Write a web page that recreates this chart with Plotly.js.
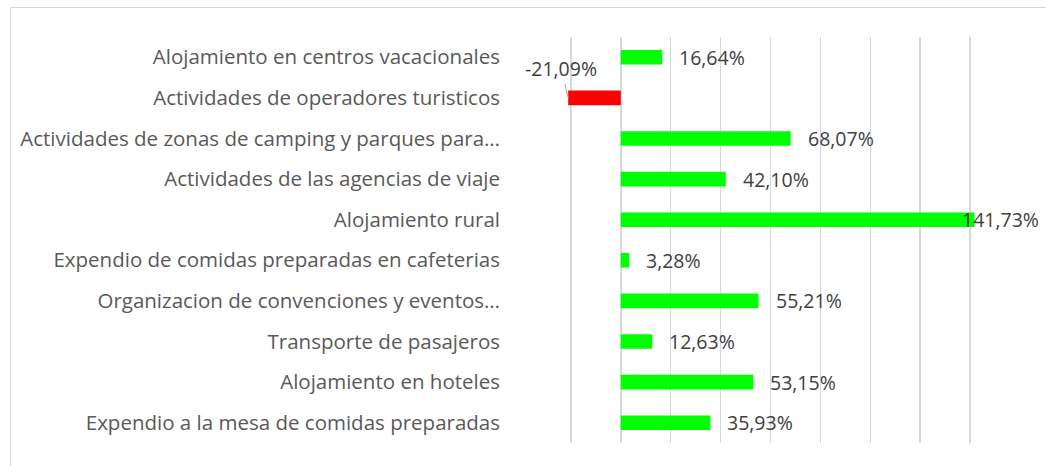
<!DOCTYPE html>
<html>
<head>
<meta charset="utf-8">
<script src="https://cdn.plot.ly/plotly-3.0.1.min.js"></script>
<style>
  html, body { margin: 0; padding: 0; background: #ffffff; overflow: hidden; }
  #frame { position: absolute; left: 10px; top: 7px; width: 1100px; height: 520px; border: 1px solid #d9d9d9; box-sizing: border-box; }
  #chart { position: absolute; left: 0; top: 0; width: 1046px; height: 466px; }
</style>
</head>
<body>
<div id="frame"></div>
<div id="chart"></div>
<script>
const categories = [
  "Alojamiento en centros vacacionales",
  "Actividades de operadores turisticos",
  "Actividades de zonas de camping y parques para…",
  "Actividades de las agencias de viaje",
  "Alojamiento rural",
  "Expendio de comidas preparadas en cafeterias",
  "Organizacion de convenciones y eventos…",
  "Transporte de pasajeros",
  "Alojamiento en hoteles",
  "Expendio a la mesa de comidas preparadas"
];
const values = [16.64, -21.09, 68.07, 42.10, 141.73, 3.28, 55.21, 12.63, 53.15, 35.93];
const valueLabels = ["16,64%", "-21,09%", "68,07%", "42,10%", "141,73%", "3,28%", "55,21%", "12,63%", "53,15%", "35,93%"];

const FONT = "'Open Sans', sans-serif";
const colors = values.map(v => v < 0 ? "#ff0000" : "#00ff00");

const trace = {
  type: "bar",
  orientation: "h",
  x: values,
  y: categories,
  marker: { color: colors },
  width: 0.36,
  hoverinfo: "none"
};

const annotations = values.map((v, i) => {
  if (v < 0) {
    return {
      x: v, y: categories[i], xref: "x", yref: "y",
      text: valueLabels[i], showarrow: true,
      arrowhead: 0, arrowwidth: 1, arrowcolor: "#a6a6a6",
      ax: -7, ay: -29, standoff: 0,
      font: { family: FONT, size: 19.5, color: "#404040" }
    };
  }
  const nearEdge = v > 120;
  return {
    x: v, y: categories[i], xref: "x", yref: "y",
    text: valueLabels[i], showarrow: false,
    xanchor: "left", yanchor: "middle",
    xshift: nearEdge ? -14 : 15,
    font: { family: FONT, size: 19.5, color: "#404040" }
  };
});

const layout = {
  width: 1046, height: 466,
  margin: { l: 521, r: 26, t: 37, b: 23, pad: 0 },
  paper_bgcolor: "rgba(0,0,0,0)",
  plot_bgcolor: "rgba(0,0,0,0)",
  showlegend: false,
  bargap: 0.2,
  xaxis: {
    range: [-40, 160],
    dtick: 20, tick0: 0,
    showgrid: true, gridcolor: "#d9d9d9", gridwidth: 1.5,
    zeroline: false, showline: false,
    showticklabels: false, ticks: "",
    fixedrange: true
  },
  yaxis: {
    type: "category",
    autorange: "reversed",
    showgrid: false, zeroline: false, showline: false,
    ticks: "",
    ticklabelstandoff: 20,
    tickfont: { family: FONT, size: 20.5, color: "#595959" },
    fixedrange: true
  },
  annotations: annotations
};

Plotly.newPlot("chart", [trace], layout, { displayModeBar: false, staticPlot: true });
</script>
</body>
</html>
